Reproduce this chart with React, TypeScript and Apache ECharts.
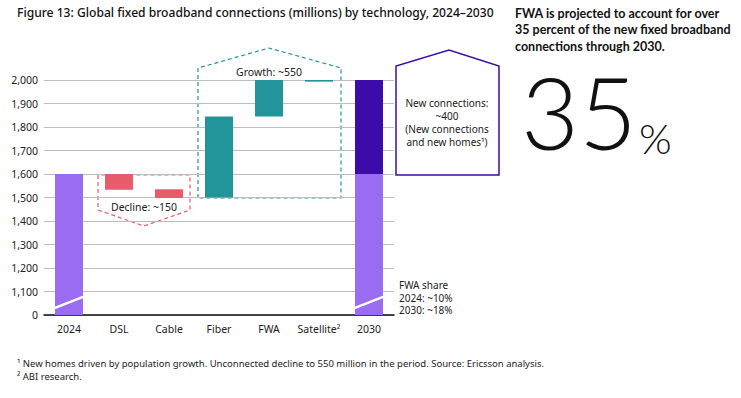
import React, { useEffect, useRef } from "react";
import * as echarts from "echarts";

const categories = ["2024", "DSL", "Cable", "Fiber", "FWA", "Satellite²", "2030"];
// invisible base of each floating bar
const baseValues = [0, 1533, 1498, 1500, 1845, 1993, 0];
// existing connections (2024 total, 2030 carried over)
const existingValues: (number | string)[] = [1600, "-", "-", "-", "-", "-", 1600];
// change per technology (decline red, growth teal)
const changeValues: (number | string)[] = ["-", 67, 37, 345, 160, 12, "-"];
const changeKinds = ["", "decline", "decline", "growth", "growth", "growth", ""];
// new connections on top of 2030
const newValues: (number | string)[] = ["-", "-", "-", "-", "-", "-", 405];
// FWA share divider line inside total bars [categoryIndex, leftValue, rightValue]
const fwaShareLines = [
  [0, 1030, 1077],
  [6, 1030, 1077],
];
const yTicks = { min: 1000, max: 2000, interval: 100 };

const FONT = "'Noto Sans', sans-serif";
const PURPLE = "#9a6cf2";
const DARK_PURPLE = "#3d0ca8";
const RED = "#e85b6a";
const TEAL = "#22959a";

export default function App() {
  const ref = useRef<HTMLDivElement>(null);
  useEffect(() => {
    if (!ref.current) return;
    const chart = echarts.init(ref.current, undefined, { renderer: "svg" });
    const txt = (x: number, y: number, text: string, style: any = {}) => ({
      type: "text",
      x,
      y,
      style: { text, fontFamily: FONT, fontSize: 10.5, fill: "#222", ...style },
    });
    chart.setOption({
      animation: false,
      grid: { left: 44, right: 347, top: 80, bottom: 83 },
      xAxis: {
        type: "category",
        data: categories,
        axisTick: { show: false },
        axisLine: { lineStyle: { color: "#111", width: 1.5 } },
        axisLabel: { color: "#222", fontFamily: FONT, fontSize: 10.5, margin: 8, interval: 0 },
      },
      yAxis: {
        type: "value",
        min: yTicks.min,
        max: yTicks.max,
        interval: yTicks.interval,
        axisLine: { show: false },
        axisTick: { show: false },
        splitLine: { lineStyle: { color: "#bdbdbd", width: 1 } },
        axisLabel: {
          color: "#222",
          fontFamily: FONT,
          fontSize: 10.5,
          margin: 6,
          formatter: (v: number) => (v === yTicks.min ? "0" : v.toLocaleString("en-US")),
        },
      },
      series: [
        {
          type: "bar",
          stack: "w",
          barWidth: 28,
          data: baseValues,
          itemStyle: { color: "transparent" },
          silent: true,
        },
        {
          type: "bar",
          stack: "w",
          barWidth: 28,
          data: existingValues,
          itemStyle: { color: PURPLE },
        },
        {
          type: "bar",
          stack: "w",
          barWidth: 28,
          data: changeValues.map((v, i) => ({
            value: v,
            itemStyle: { color: changeKinds[i] === "decline" ? RED : TEAL },
          })),
        },
        {
          type: "bar",
          stack: "w",
          barWidth: 28,
          data: newValues,
          itemStyle: { color: DARK_PURPLE },
        },
        {
          type: "custom",
          data: fwaShareLines,
          z: 10,
          renderItem: (params: any, api: any) => {
            const idx = api.value(0);
            const p1 = api.coord([idx, api.value(1)]);
            const p2 = api.coord([idx, api.value(2)]);
            const hw = 14;
            return {
              type: "line",
              shape: { x1: p1[0] - hw, y1: p1[1], x2: p2[0] + hw, y2: p2[1] },
              style: { stroke: "#fff", lineWidth: 2.5 },
            };
          },
        },
      ],
      graphic: [
        txt(17, 6, "Figure 13: Global fixed broadband connections (millions) by technology, 2024–2030", {
          fontSize: 12.1,
          fontWeight: 500,
          fill: "#111",
        }),
        txt(515, 5, "FWA is projected to account for over\n35 percent of the new fixed broadband\nconnections through 2030.", {
          fontFamily: "Lato, sans-serif",
          fontSize: 12.5,
          fontWeight: "bold",
          fill: "#111",
          lineHeight: 16.5,
        }),
        txt(521, 111, "35", {
          fontFamily: "Lato, sans-serif",
          fontWeight: 300,
          fontSize: 100,
          lineHeight: 74,
          verticalAlign: "middle",
          fill: "#111",
        }),
        txt(639, 117, "%", {
          fontFamily: "Lato, sans-serif",
          fontWeight: 300,
          fontSize: 42,
          fill: "#111",
        }),
        {
          type: "polygon",
          shape: { points: [[98, 175], [98, 210], [144, 226], [190, 210], [190, 175]] },
          style: { fill: "none", stroke: RED, lineWidth: 1.2, lineDash: [4, 3] },
        },
        {
          type: "polygon",
          shape: { points: [[198, 198], [198, 68], [269, 48], [341, 68], [341, 198]] },
          style: { fill: "none", stroke: TEAL, lineWidth: 1.2, lineDash: [4, 3] },
        },
        {
          type: "polygon",
          shape: { points: [[396, 175], [396, 66], [449, 50], [499, 66], [499, 175]] },
          style: { fill: "#fff", stroke: DARK_PURPLE, lineWidth: 1.5 },
        },
        txt(144, 201, "Decline: ~150", { textAlign: "center" }),
        txt(269, 66, "Growth: ~550", { textAlign: "center" }),
        txt(447, 96, "New connections:\n~400\n(New connections\nand new homes¹)", {
          textAlign: "center",
          fontSize: 10,
          lineHeight: 13,
        }),
        txt(399, 279, "FWA share\n2024: ~10%\n2030: ~18%", { fontSize: 10, lineHeight: 12.5 }),
        txt(17, 357, "¹ New homes driven by population growth. Unconnected decline to 550 million in the period. Source: Ericsson analysis.\n² ABI research.", {
          fontSize: 9.5,
          lineHeight: 13,
          fill: "#222",
        }),
      ],
    });
    return () => chart.dispose();
  }, []);
  return (
    <div
      ref={ref}
      style={{ position: "fixed", left: 0, top: 0, width: 741, height: 398, background: "#fff" }}
    />
  );
}
